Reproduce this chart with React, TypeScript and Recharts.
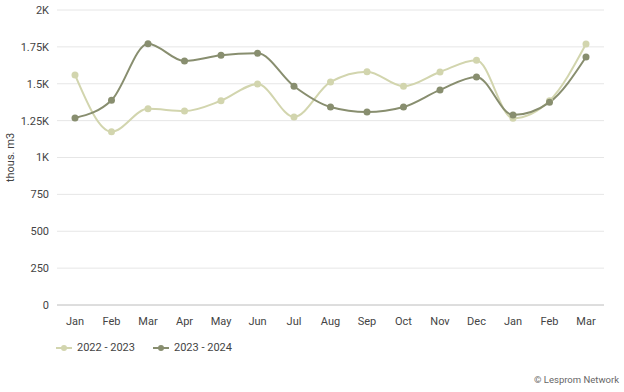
import { LineChart, Line, XAxis, YAxis, CartesianGrid, Legend } from 'recharts'

const months = ['Jan', 'Feb', 'Mar', 'Apr', 'May', 'Jun', 'Jul', 'Aug', 'Sep', 'Oct', 'Nov', 'Dec', 'Jan', 'Feb', 'Mar']
const season2223 = [1560, 1175, 1330, 1315, 1385, 1498, 1275, 1512, 1582, 1483, 1580, 1659, 1266, 1385, 1769]
const season2324 = [1268, 1388, 1772, 1654, 1693, 1706, 1483, 1342, 1308, 1342, 1458, 1546, 1288, 1374, 1681]
const yTicks = [0, 250, 500, 750, 1000, 1250, 1500, 1750, 2000]

const LIGHT = '#d2d5ae'
const DARK = '#888e6f'

const data = months.map((m, i) => ({
  name: m,
  key: i,
  '2022 - 2023': season2223[i],
  '2023 - 2024': season2324[i],
}))

const fmtY = (v: number) => (v >= 1000 ? `${v / 1000}K` : String(v))

function LegendContent() {
  const items = [
    { label: '2022 - 2023', color: LIGHT },
    { label: '2023 - 2024', color: DARK },
  ]
  return (
    <div style={{ display: 'flex', paddingLeft: 56, fontSize: 11, color: '#444', lineHeight: '14px' }}>
      {items.map(it => (
        <div key={it.label} style={{ display: 'flex', alignItems: 'center', marginRight: 18 }}>
          <svg width={16} height={10} style={{ marginRight: 5 }}>
            <line x1={0} y1={5} x2={16} y2={5} stroke={it.color} strokeWidth={2} />
            <circle cx={8} cy={5} r={3} fill={it.color} />
          </svg>
          <span>{it.label}</span>
        </div>
      ))}
    </div>
  )
}

export default function App() {
  return (
    <div style={{ position: 'absolute', left: 0, top: 0, width: 624, height: 392, background: '#fff', fontFamily: 'Roboto, sans-serif' }}>
      <LineChart width={624} height={392} data={data} margin={{ top: 10, right: 20, left: 0, bottom: 43 }}>
        <CartesianGrid vertical={false} stroke="#e6e6e6" />
        <XAxis
          dataKey="key"
          tickFormatter={(i: number) => months[i]}
          interval={0}
          padding={{ left: 18, right: 18 }}
          tick={{ fontSize: 11, fill: '#444' }}
          tickLine={false}
          axisLine={{ stroke: '#c8c8c8' }}
          height={30}
          tickMargin={6}
        />
        <YAxis
          width={57}
          domain={[0, 2000]}
          ticks={yTicks}
          tickFormatter={fmtY}
          tick={{ fontSize: 11, fill: '#444' }}
          tickLine={false}
          axisLine={false}
          label={{ value: 'thous. m3', angle: -90, position: 'insideLeft', offset: 10, style: { fontSize: 11, fill: '#444', textAnchor: 'middle' } }}
        />
        <Legend
          verticalAlign="bottom"
          align="left"
          content={<LegendContent />}
          wrapperStyle={{ left: 0, top: 341, width: 624 }}
        />
        <Line
          type="monotone"
          dataKey="2022 - 2023"
          stroke={LIGHT}
          strokeWidth={2}
          dot={{ r: 3.5, fill: LIGHT, strokeWidth: 0 }}
          isAnimationActive={false}
        />
        <Line
          type="monotone"
          dataKey="2023 - 2024"
          stroke={DARK}
          strokeWidth={2}
          dot={{ r: 3.5, fill: DARK, strokeWidth: 0 }}
          isAnimationActive={false}
        />
      </LineChart>
      <div style={{ position: 'absolute', right: 5, top: 374, fontSize: 9.5, color: '#666' }}>© Lesprom Network</div>
    </div>
  )
}
